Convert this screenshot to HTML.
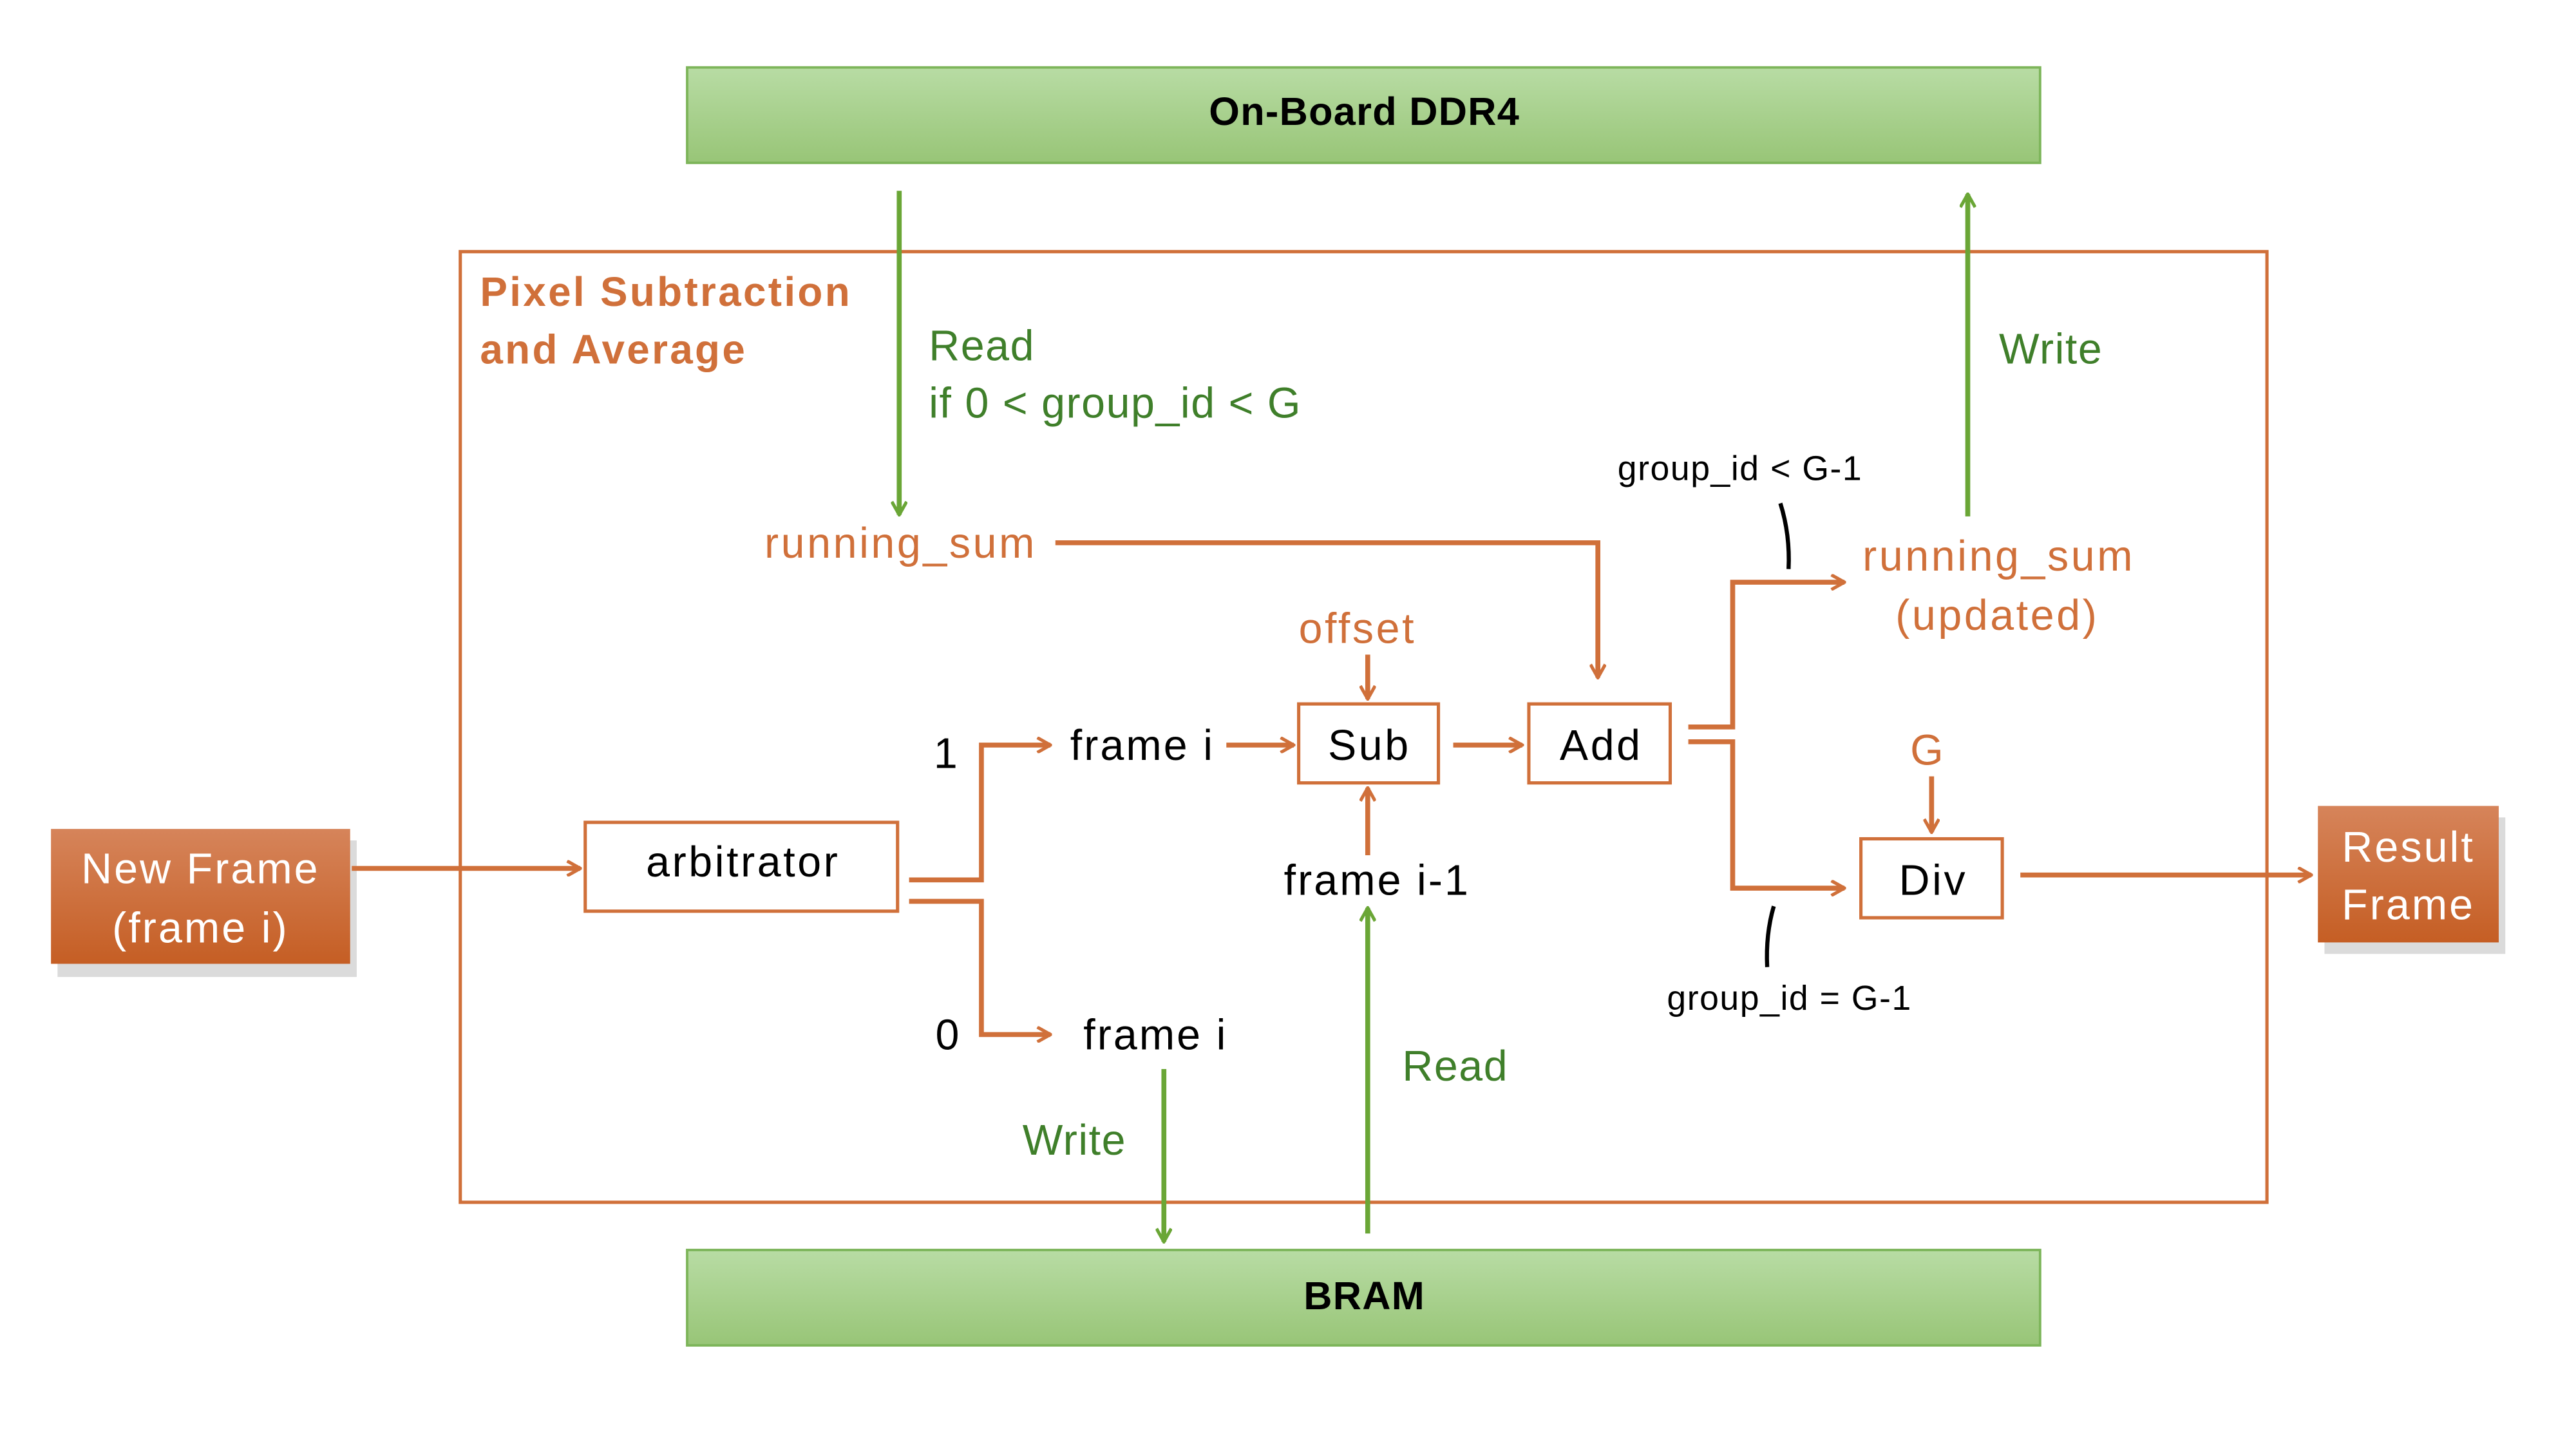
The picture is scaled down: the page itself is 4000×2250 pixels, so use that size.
<!DOCTYPE html>
<html><head><meta charset="utf-8"><style>html,body{margin:0;padding:0;background:#fff}svg{display:block}</style></head>
<body>
<svg width="4000" height="2250" viewBox="0 0 1567 881" preserveAspectRatio="none" xmlns="http://www.w3.org/2000/svg" font-family="'Liberation Sans', sans-serif">
<defs>
<linearGradient id="g" x1="0" y1="0" x2="0" y2="1"><stop offset="0" stop-color="#B8DCA4"/><stop offset="1" stop-color="#98C577"/></linearGradient>
<linearGradient id="o" x1="0" y1="0" x2="0" y2="1"><stop offset="0" stop-color="#D6845A"/><stop offset="1" stop-color="#C55E24"/></linearGradient>
<marker id="ao" markerWidth="10" markerHeight="10" refX="9" refY="5" orient="auto" markerUnits="userSpaceOnUse"><path d="M1,0.5 L9,5 L1,9.5" fill="none" stroke="#D0703A" stroke-width="2"/></marker>
<marker id="ag" markerWidth="10" markerHeight="10" refX="9" refY="5" orient="auto" markerUnits="userSpaceOnUse"><path d="M1,0.5 L9,5 L1,9.5" fill="none" stroke="#6AA636" stroke-width="2"/></marker>
</defs>
<rect x="418" y="41" width="823" height="58" fill="url(#g)" stroke="#7DB55A" stroke-width="1.5"/>
<text x="830" y="76" font-size="24" font-weight="bold" text-anchor="middle" letter-spacing="0.5">On-Board DDR4</text>
<rect x="418" y="760" width="823" height="58" fill="url(#g)" stroke="#7DB55A" stroke-width="1.5"/>
<text x="830" y="796" font-size="24" font-weight="bold" text-anchor="middle" letter-spacing="0.5">BRAM</text>
<rect x="280" y="153" width="1099" height="578" fill="none" stroke="#D0703A" stroke-width="2"/>
<g font-size="25" font-weight="bold" fill="#D0703A" letter-spacing="1.3">
<text x="292" y="186">Pixel Subtraction</text>
<text x="292" y="221">and Average</text>
</g>
<g stroke="#6AA636" stroke-width="3" fill="none">
<line x1="547" y1="116" x2="547" y2="313" marker-end="url(#ag)"/>
<line x1="1197" y1="314" x2="1197" y2="118" marker-end="url(#ag)"/>
<line x1="708" y1="650" x2="708" y2="755" marker-end="url(#ag)"/>
<line x1="832" y1="750" x2="832" y2="552" marker-end="url(#ag)"/>
</g>
<g fill="#3F7F2A" font-size="26" letter-spacing="0.6">
<text x="565" y="219">Read</text>
<text x="565" y="254">if 0 &lt; group_id &lt; G</text>
<text x="1216" y="221">Write</text>
<text x="622" y="702">Write</text>
<text x="853" y="657">Read</text>
</g>
<g fill="#D0703A" font-size="26" letter-spacing="1.4">
<text x="465" y="339">running_sum</text>
<text x="1133" y="347">running_sum</text>
<text x="1153" y="383">(updated)</text>
<text x="790" y="391">offset</text>
<text x="1162" y="465">G</text>
</g>
<g fill="#fff" stroke="#D0703A" stroke-width="2">
<rect x="356" y="500" width="190" height="54"/>
<rect x="790" y="428" width="85" height="48"/>
<rect x="930" y="428" width="86" height="48"/>
<rect x="1132" y="510" width="86" height="48"/>
</g>
<g font-size="26" fill="#000" text-anchor="middle" letter-spacing="1.4">
<text x="452" y="533">arbitrator</text>
<text x="833" y="462">Sub</text>
<text x="974" y="462">Add</text>
<text x="1176" y="544">Div</text>
</g>
<g font-size="26" fill="#000" letter-spacing="1.2">
<text x="651" y="462">frame i</text>
<text x="659" y="638">frame i</text>
<text x="781" y="544">frame i-1</text>
<text x="568" y="467">1</text>
<text x="569" y="638">0</text>
</g>
<g font-size="21" fill="#000" letter-spacing="0.6">
<text x="984" y="292">group_id &lt; G-1</text>
<text x="1014" y="614">group_id = G-1</text>
</g>
<path d="M1083,306 Q1089,325 1088,346" stroke="#000" stroke-width="2.5" fill="none"/>
<path d="M1079,551 Q1074,568 1075,588" stroke="#000" stroke-width="2.5" fill="none"/>
<rect x="33" y="507" width="182" height="83" fill="#999" opacity="0.35" transform="translate(2,4)"/>
<rect x="31" y="504" width="182" height="82" fill="url(#o)"/>
<g font-size="26" fill="#fff" text-anchor="middle" letter-spacing="1.2">
<text x="122" y="537">New Frame</text>
<text x="122" y="573">(frame i)</text>
</g>
<rect x="1412" y="493" width="110" height="83" fill="#999" opacity="0.35" transform="translate(2,4)"/>
<rect x="1410" y="490" width="110" height="83" fill="url(#o)"/>
<g font-size="26" fill="#fff" text-anchor="middle" letter-spacing="1.2">
<text x="1465" y="524">Result</text>
<text x="1465" y="559">Frame</text>
</g>
<g stroke="#D0703A" stroke-width="3" fill="none">
<line x1="214" y1="528" x2="353" y2="528" marker-end="url(#ao)"/>
<polyline points="553,535 597,535 597,453 639,453" marker-end="url(#ao)"/>
<polyline points="553,548 597,548 597,629 639,629" marker-end="url(#ao)"/>
<line x1="746" y1="453" x2="787" y2="453" marker-end="url(#ao)"/>
<line x1="884" y1="453" x2="926" y2="453" marker-end="url(#ao)"/>
<line x1="832" y1="398" x2="832" y2="425" marker-end="url(#ao)"/>
<line x1="832" y1="520" x2="832" y2="479" marker-end="url(#ao)"/>
<polyline points="642,330 972,330 972,412" marker-end="url(#ao)"/>
<polyline points="1027,442 1054,442 1054,354 1122,354" marker-end="url(#ao)"/>
<polyline points="1027,451 1054,451 1054,540 1122,540" marker-end="url(#ao)"/>
<line x1="1175" y1="472" x2="1175" y2="506" marker-end="url(#ao)"/>
<line x1="1229" y1="532" x2="1406" y2="532" marker-end="url(#ao)"/>
</g>
</svg>
</body></html>
